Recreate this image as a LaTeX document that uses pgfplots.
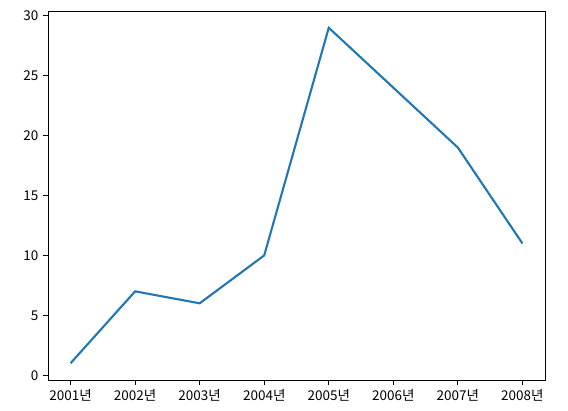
\documentclass[border=0pt]{standalone}
\usepackage{fontspec}
\setmainfont{Noto Sans CJK KR}
\usepackage{pgfplots}
\pgfplotsset{compat=1.18}
\definecolor{tabblue}{HTML}{1F77B4}

\begin{document}
\fontsize{13.5}{16}\selectfont
\begin{tikzpicture}
\useasboundingbox (-48pt,-31pt) rectangle (520pt,380pt);
\begin{axis}[
    at={(0,0)}, anchor=south west,
    scale only axis,
    width=497pt, height=369pt,
    xmin=-0.35, xmax=7.35,
    ymin=-0.4, ymax=30.4,
    xtick={0,...,7},
    xticklabels={2001년,2002년,2003년,2004년,2005년,2006년,2007년,2008년},
    ytick={0,5,...,30},
    tick align=outside,
    tick pos=left,
    major tick length=4.9pt,
    tick style={line width=0.9pt, black},
    axis line style={line width=0.9pt},
    /pgf/number format/assume math mode=true,
    ticklabel style={font=\fontsize{13.5}{16}\selectfont},
  ]
  \addplot[tabblue, line width=2.1pt] coordinates {
    (0,1) (1,7) (2,6) (3,10) (4,29) (5,24) (6,19) (7,11)
  };
\end{axis}
\end{tikzpicture}
\end{document}
